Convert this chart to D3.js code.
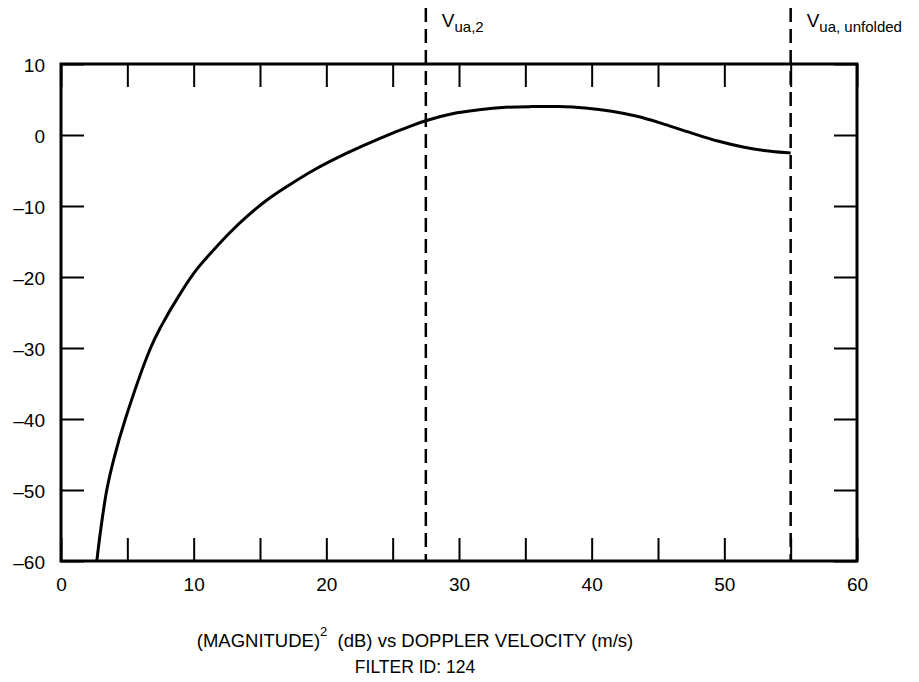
<!DOCTYPE html>
<html>
<head>
<meta charset="utf-8">
<script src="https://cdn.jsdelivr.net/npm/d3@7"></script>
<style>
  body { margin: 0; background: #fff; }
  svg { display: block; font-family: "Liberation Sans", Arial, Helvetica, sans-serif; }
</style>
</head>
<body>
<svg id="chart" width="919" height="682"></svg>
<script>
// velocity (m/s) and squared magnitude (dB)
var velocity  = [2.7, 3.0, 3.45, 4.0, 4.85, 6.75, 7.5, 9.0, 10.2, 11.5, 12.7, 14.0, 15.5, 17.0, 19.0, 21.5, 24.0, 26.5, 27.5,
                 29.5, 31.5, 33.5, 35.5, 37.5, 39.5, 41.5, 43.5, 45.5, 47.5, 49.5, 51.5, 53.5, 55.0];
var magnitude = [-60, -55.5, -50, -45.5, -40, -30, -27.1, -22.3, -19.0, -16.2, -13.8, -11.5, -9.2, -7.3, -5.0, -2.6, -0.5, 1.35, 2.0,
                 3.0, 3.55, 3.9, 4.0, 4.0, 3.8, 3.35, 2.6, 1.5, 0.3, -0.85, -1.72, -2.3, -2.55];

var xTicks = [0, 5, 10, 15, 20, 25, 30, 35, 40, 45, 50, 55, 60];
var yTicks = [10, 0, -10, -20, -30, -40, -50, -60];
var markers = [27.5, 55];        // V_ua,2 and V_ua,unfolded
var markerSubs = ["ua,2", "ua, unfolded"];

var svg = d3.select("#chart");
var mLeft = 61, mRight = 857, mTop = 64, mBottom = 561;

var x = d3.scaleLinear().domain([0, 60]).range([mLeft, mRight]);
var y = d3.scaleLinear().domain([-60, 10]).range([mBottom, mTop]);

function fmt(d) { return d < 0 ? "\u2013" + Math.abs(d) : String(d); }

// bottom axis, ticks inside
var gb = svg.append("g").attr("transform", "translate(0," + mBottom + ")")
  .call(d3.axisBottom(x).tickValues(xTicks).tickSizeInner(-23).tickSizeOuter(0).tickPadding(17)
    .tickFormat(function(d){ return d % 10 === 0 ? d : ""; }));
// top axis
var gt = svg.append("g").attr("transform", "translate(0," + mTop + ")")
  .call(d3.axisTop(x).tickValues(xTicks).tickSizeInner(-23).tickSizeOuter(0).tickFormat(""));
// left axis
var gl = svg.append("g").attr("transform", "translate(" + mLeft + ",0)")
  .call(d3.axisLeft(y).tickValues(yTicks).tickSizeInner(-23).tickSizeOuter(0).tickPadding(16).tickFormat(fmt));
// right axis
var gr = svg.append("g").attr("transform", "translate(" + mRight + ",0)")
  .call(d3.axisRight(y).tickValues(yTicks).tickSizeInner(-23).tickSizeOuter(0).tickFormat(""));

[gb, gt, gl, gr].forEach(function(g){
  g.select(".domain").remove();
  g.selectAll(".tick line").attr("stroke", "#000").attr("stroke-width", 2);
  g.selectAll(".tick text").attr("fill", "#000").attr("font-size", 19);
});
gl.selectAll(".tick text").attr("dy", "0.40em");

// frame
svg.append("rect")
  .attr("x", mLeft).attr("y", mTop)
  .attr("width", mRight - mLeft).attr("height", mBottom - mTop)
  .attr("fill", "none").attr("stroke", "#000").attr("stroke-width", 3);

// curve
var line = d3.line()
  .x(function(d, i){ return x(velocity[i]); })
  .y(function(d){ return y(d); })
  .curve(d3.curveCatmullRom.alpha(0.5));

svg.append("path")
  .datum(magnitude)
  .attr("d", line)
  .attr("fill", "none")
  .attr("stroke", "#000")
  .attr("stroke-width", 3);

// dashed marker lines
svg.selectAll(".marker")
  .data(markers)
  .enter().append("line")
  .attr("x1", function(d){ return x(d); })
  .attr("x2", function(d){ return x(d); })
  .attr("y1", 8)
  .attr("y2", mBottom)
  .attr("stroke", "#000")
  .attr("stroke-width", 2.5)
  .attr("stroke-dasharray", "14,7");

var lab = svg.selectAll(".mlabel")
  .data(markers)
  .enter().append("text")
  .attr("x", function(d){ return x(d) + 16; })
  .attr("y", 27)
  .attr("font-size", 19)
  .attr("fill", "#000");
lab.append("tspan").text("V");
lab.append("tspan").attr("font-size", 15).attr("dy", 5)
  .text(function(d, i){ return markerSubs[i]; });

// caption
var cap = svg.append("text")
  .attr("x", 415).attr("y", 647)
  .attr("text-anchor", "middle")
  .attr("font-size", 18.5)
  .attr("fill", "#000");
cap.append("tspan").text("(MAGNITUDE)");
cap.append("tspan").attr("font-size", 13).attr("dy", -11).text("2");
cap.append("tspan").attr("dy", 11).text("\u00a0\u00a0(dB) vs DOPPLER VELOCITY (m/s)");

svg.append("text")
  .attr("x", 415).attr("y", 673)
  .attr("text-anchor", "middle")
  .attr("font-size", 17.5)
  .attr("fill", "#000")
  .text("FILTER ID: 124");
</script>
</body>
</html>
